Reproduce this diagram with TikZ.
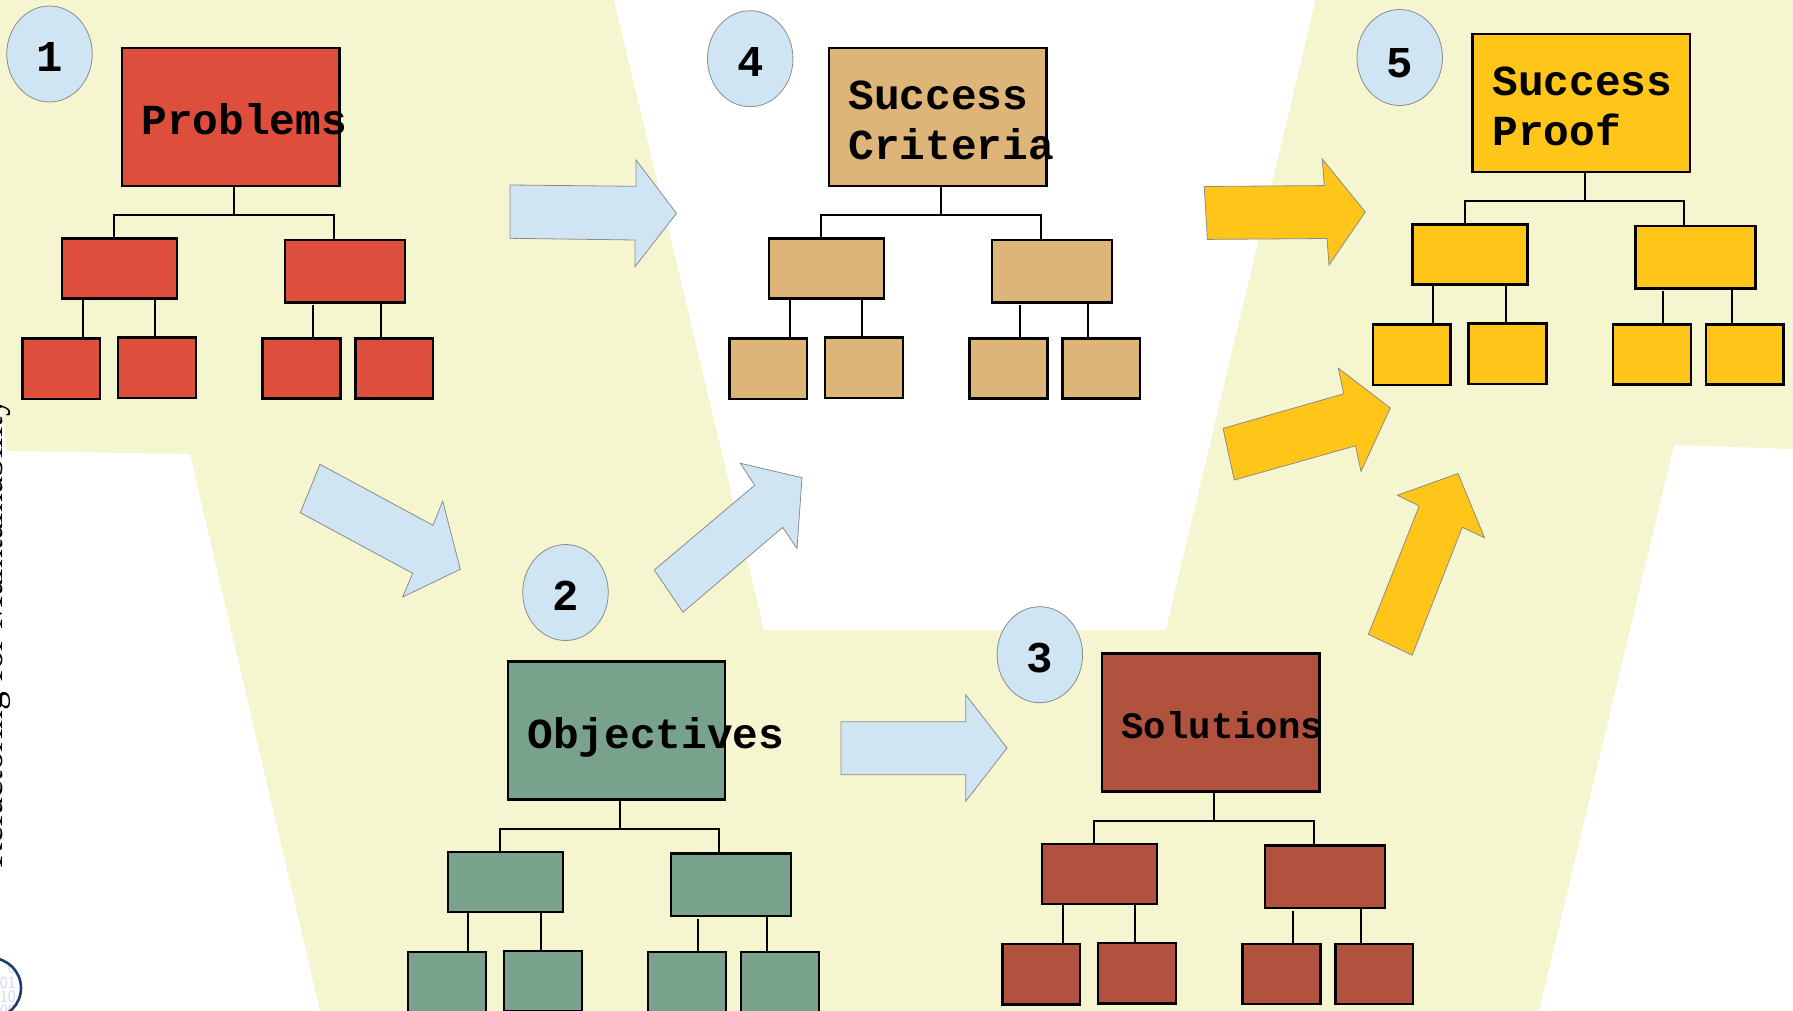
\documentclass[tikz,border=0pt]{standalone}
\usepackage{fontspec}
\setmainfont{Liberation Serif}
\newfontfamily\labelfont[Scale=1]{Liberation Mono}
\usetikzlibrary{shapes.geometric}
\definecolor{paleback}{HTML}{F5F6D0}
\definecolor{paleblue}{HTML}{CFE5F4}
\definecolor{problemred}{HTML}{DD4F3C}
\definecolor{tanbox}{HTML}{DEB578}
\definecolor{greenbox}{HTML}{79A28D}
\definecolor{brownbox}{HTML}{B0523E}
\definecolor{yellowbox}{HTML}{FFC519}
\definecolor{logoblue}{HTML}{1C3B6E}
\definecolor{logodigit}{HTML}{D4D4F6}
\tikzset{
  treebox/.style={draw=black,line width=2.1pt,inner sep=0pt,outer sep=0pt},
  treeline/.style={draw=black,line width=2pt},
  blockarrow/.style={draw=black!45,line width=0.8pt,line join=miter},
  stepcircle/.style={ellipse,draw=black!45,line width=0.8pt,fill=paleblue,inner sep=0pt,
    minimum width=85.5pt,minimum height=96pt,font=\labelfont\bfseries\fontsize{44}{44}\selectfont},
  boxlabel/.style={anchor=base west,inner sep=0pt,outer sep=0pt,align=left,
    font=\labelfont\bfseries\fontsize{42.8}{50.5}\selectfont},
}
\newcommand{\digitdown}[2]{\raisebox{-#1pt}[0pt][0pt]{#2}}
\newcommand{\tb}[6]{\node[treebox,fill=#6,minimum width=\fpeval{#4-#2}pt,minimum height=\fpeval{#5-#3}pt]
  (#1) at ({(#2+#4)/2},{(#3+#5)/2}) {};}
\newcommand{\treegroup}[4]{%
  \begin{scope}[shift={(#2,#3)}]
    \tb{#1m}{122}{48}{339.5}{186}{#4}
    \tb{#1A}{62}{238.5}{177}{298.5}{#4}
    \tb{#1B}{285}{240}{405}{302.5}{#4}
    \tb{#1a}{22.5}{338.5}{100}{399}{#4}
    \tb{#1b}{118}{337.5}{196}{398}{#4}
    \tb{#1c}{262.5}{338.5}{340.5}{398.5}{#4}
    \tb{#1d}{355.5}{338.5}{433}{398.5}{#4}
    \coordinate (#1hub) at (234,215);
    \coordinate (#1barl) at (114,215);
    \coordinate (#1barr) at (333.5,215);
    \coordinate (#1ca) at (82.5,298);
    \coordinate (#1cb) at (155,298);
    \coordinate (#1cc) at (312.5,305);
    \coordinate (#1cd) at (381,302);
    \draw[treeline] (#1m.south -| #1hub) -- (#1hub);
    \draw[treeline] (#1A.north -| #1barl) -- (#1barl) -- (#1barr) -- (#1B.north -| #1barr);
    \draw[treeline] (#1ca) -- (#1a.north -| #1ca);
    \draw[treeline] (#1cb) -- (#1b.north -| #1cb);
    \draw[treeline] (#1cc) -- (#1c.north -| #1cc);
    \draw[treeline] (#1cd) -- (#1d.north -| #1cd);
  \end{scope}}
\begin{document}
\begin{tikzpicture}[x=1pt,y=-1pt]
\useasboundingbox (0,0) rectangle (1793,1011);
% pale background band
\fill[paleback] (0,0) -- (614,0) -- (764,630) -- (1165.7,630) -- (1315.6,0) -- (1793,0) -- (1793,449)
  -- (1674,445) -- (1539,1011) -- (320,1011) -- (190,454) -- (7,451) -- (0,396) -- cycle;
% cut-off side text
\node[rotate=90,anchor=base west,inner sep=0pt,font=\fontsize{37.5}{37.5}\selectfont] (sidetext) at (2,869)
  {Refactoring for Maintainability};
% cut-off logo
\begin{scope}
  \clip (-9,988) circle (30);
  \foreach \yy/\tt/\nn in {973/0/r1,988/01/r2,1002/10/r3,1016/00/r4}
    \node[anchor=base east,inner sep=0pt,text=logodigit,font=\fontsize{17}{17}\selectfont\sffamily] (logo\nn) at (16,\yy) {\tt};
\end{scope}
\draw[logoblue,line width=2.6pt] (-9,988) circle (30);
% trees
\treegroup{p}{0}{0}{problemred}
\treegroup{c}{707}{0}{tanbox}
\treegroup{o}{385.7}{613.5}{greenbox}
\treegroup{s}{980}{605.5}{brownbox}
\treegroup{f}{1350.5}{-14}{yellowbox}
% labels
\node[boxlabel] (lp) at (141.5,135) {Problems};
\node[boxlabel] (lc) at (848.5,160) {Success\\Criteria};
\node[boxlabel] (lo) at (527.5,748) {Objectives};
\node[boxlabel,font=\labelfont\bfseries\fontsize{37.3}{37.3}\selectfont] (ls) at (1121.5,738) {Solutions};
\node[boxlabel] (lf) at (1492.5,146) {Success\\Proof};
% step circles
\node[stepcircle] (n1) at (49.5,54) {\digitdown{17.7}{1}};
\node[stepcircle] (n2) at (565.5,592.5) {\digitdown{17.7}{2}};
\node[stepcircle] (n3) at (1039.8,654.7) {\digitdown{17.7}{3}};
\node[stepcircle] (n4) at (750.2,58.7) {\digitdown{17.7}{4}};
\node[stepcircle] (n5) at (1399.7,57.5) {\digitdown{19.7}{5}};
% block arrows
\draw[blockarrow,fill=paleblue] (510,185) -- (510,238.3) -- (635,240) -- (635,266.7) -- (676.5,213.3) -- (636,160) -- (636,186.3) -- cycle;
\draw[blockarrow,fill=paleblue] (320,464.3) -- (300.3,512.7) -- (412.7,573.3) -- (402.7,597) -- (460.3,569.3) -- (442.7,501) -- (433,525.3) -- cycle;
\draw[blockarrow,fill=paleblue] (654.3,570) -- (683,612.2) -- (782.7,527.4) -- (797,548.5) -- (802,477.7) -- (740.3,463.3) -- (754.7,485.2) -- cycle;
\draw[blockarrow,fill=paleblue] (841,721.7) -- (841,774.7) -- (965.7,774.7) -- (965.7,801.3) -- (1007,748) -- (965.7,694.7) -- (965.7,721.7) -- cycle;
\draw[blockarrow,fill=yellowbox] (1204.2,186.5) -- (1207.4,239.4) -- (1327,238.5) -- (1329,265) -- (1365.3,212) -- (1322.3,159) -- (1324.3,185.6) -- cycle;
\draw[blockarrow,fill=yellowbox] (1223,428.4) -- (1234.3,480) -- (1355.5,445.8) -- (1361,471.4) -- (1390.3,408) -- (1338.3,368.2) -- (1343.8,393.8) -- cycle;
\draw[blockarrow,fill=yellowbox] (1368.4,634.4) -- (1412.2,655.2) -- (1462.2,527.3) -- (1484.5,537.7) -- (1458,473.5) -- (1397.4,495.2) -- (1419.2,506) -- cycle;
\end{tikzpicture}
\end{document}
